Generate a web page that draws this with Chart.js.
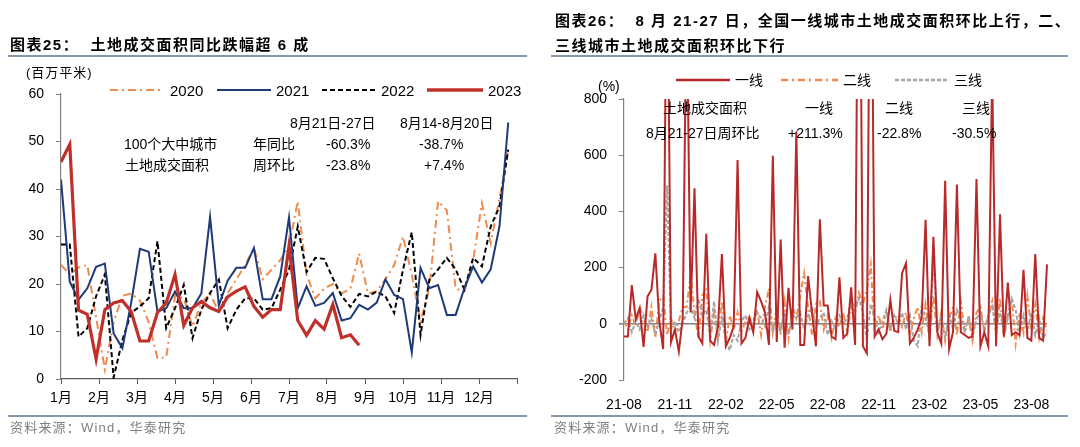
<!DOCTYPE html>
<html><head><meta charset="utf-8">
<script src="https://cdn.jsdelivr.net/npm/chart.js@4.4.0/dist/chart.umd.min.js"></script>
<style>
body{margin:0;width:1080px;height:447px;background:#fff;position:relative;overflow:hidden;font-family:'Liberation Sans',Arial,'Noto Sans CJK SC',sans-serif;}
canvas{position:absolute;top:0;}
.t{position:absolute;white-space:nowrap;line-height:1;transform:translateY(-50%);color:#000;font-size:14px;}
.ttl{font-size:15px;font-weight:bold;letter-spacing:1.5px;}
.src{font-size:13px;color:#7f7f7f;letter-spacing:1.2px;}
.sep{position:absolute;height:1.5px;background:#8497B0;}
.lg{position:absolute;}
</style></head>
<body>
<canvas id="c1" width="540" height="447" style="left:0"></canvas>
<canvas id="c2" width="540" height="447" style="left:540px"></canvas>

<div class="t ttl" style="left:10px;top:44px">图表25：&nbsp;&nbsp;土地成交面积同比跌幅超 6 成</div>
<div class="sep" style="left:8px;top:55px;width:519px"></div>
<div class="t ttl" style="left:555px;top:20px">图表26：&nbsp;&nbsp;8 月 21-27 日，全国一线城市土地成交面积环比上行，二、</div>
<div class="t ttl" style="left:555px;top:45px">三线城市土地成交面积环比下行</div>
<div class="sep" style="left:551px;top:55px;width:517px"></div>

<div class="sep" style="left:8px;top:415px;width:519px"></div>
<div class="sep" style="left:551px;top:415px;width:517px"></div>
<div class="t src" style="left:10px;top:427px">资料来源：Wind，华泰研究</div>
<div class="t src" style="left:554px;top:427px">资料来源：Wind，华泰研究</div>

<div class="t" style="left:26px;top:72px;font-size:13px;letter-spacing:1px">(百万平米)</div>
<svg class="lg" style="left:110px;top:84px" width="54" height="12"><line x1="0" y1="6" x2="54" y2="6" stroke="#EE8B4E" stroke-width="2" stroke-dasharray="8,4,2,4"/></svg>
<div class="t" style="left:170px;top:90px;font-size:15px">2020</div>
<svg class="lg" style="left:217px;top:84px" width="54" height="12"><line x1="0" y1="6" x2="54" y2="6" stroke="#1F3A78" stroke-width="2"/></svg>
<div class="t" style="left:276px;top:90px;font-size:15px">2021</div>
<svg class="lg" style="left:322px;top:84px" width="54" height="12"><line x1="0" y1="6" x2="54" y2="6" stroke="#000" stroke-width="2" stroke-dasharray="5,3"/></svg>
<div class="t" style="left:381px;top:90px;font-size:15px">2022</div>
<svg class="lg" style="left:427px;top:84px" width="56" height="12"><line x1="0" y1="6" x2="56" y2="6" stroke="#C0302A" stroke-width="3.5"/></svg>
<div class="t" style="left:488px;top:90px;font-size:15px">2023</div>

<div class="t" style="left:290px;top:123px">8月21日-27日</div>
<div class="t" style="left:400px;top:123px">8月14-8月20日</div>
<div class="t" style="left:124px;top:144px">100个大中城市</div>
<div class="t" style="left:253px;top:144px">年同比</div>
<div class="t" style="left:326px;top:144px">-60.3%</div>
<div class="t" style="left:419px;top:144px">-38.7%</div>
<div class="t" style="left:125px;top:165px">土地成交面积</div>
<div class="t" style="left:253px;top:165px">周环比</div>
<div class="t" style="left:326px;top:165px">-23.8%</div>
<div class="t" style="left:424px;top:165px">+7.4%</div>

<div class="t" style="left:598px;top:86px">(%)</div>
<svg class="lg" style="left:676px;top:74px" width="54" height="12"><line x1="0" y1="6" x2="54" y2="6" stroke="#B8292A" stroke-width="2.5"/></svg>
<div class="t" style="left:735px;top:80px">一线</div>
<svg class="lg" style="left:781px;top:74px" width="57" height="12"><line x1="0" y1="6" x2="57" y2="6" stroke="#EE8B4E" stroke-width="2.5" stroke-dasharray="7,4,2,4"/></svg>
<div class="t" style="left:843px;top:80px">二线</div>
<svg class="lg" style="left:895px;top:74px" width="53" height="12"><line x1="0" y1="6" x2="53" y2="6" stroke="#A6A6A6" stroke-width="2.5" stroke-dasharray="4,2"/></svg>
<div class="t" style="left:954px;top:80px">三线</div>

<div class="t" style="left:663px;top:108px">土地成交面积</div>
<div class="t" style="left:805px;top:108px">一线</div>
<div class="t" style="left:885px;top:108px">二线</div>
<div class="t" style="left:962px;top:108px">三线</div>
<div class="t" style="left:646px;top:133px">8月21-27日周环比</div>
<div class="t" style="left:788px;top:133px">+211.3%</div>
<div class="t" style="left:877px;top:133px">-22.8%</div>
<div class="t" style="left:952px;top:133px">-30.5%</div>

<script>
// ---- Left chart data (weekly, million m²) ----
const leftMonthLabels = ['1月','2月','3月','4月','5月','6月','7月','8月','9月','10月','11月','12月'];
const weeksPerYear = 52;
const y2020 = [24,22,23.5,24,13,2,12,17.5,18,16.5,12,4.4,4.6,17.5,17,11,16,18,14,18,21,24,27.6,21,23,25,28,37.4,22,17,19,20,18,19,26.4,18,18.5,21,24,30,22,12,19,37.4,35.5,19,18.5,25,37,28.6,38,48];
const y2021 = [42,20.5,16.7,19.1,23.6,24.3,9.6,6.5,16,27.4,26.8,14.2,14.9,18.4,14.9,14.9,18,34.1,15.5,20.7,23.4,23.4,27.6,16.8,16.8,21.6,34,14.9,19.5,15.4,16,18.1,12.3,12.8,15.6,14.6,16.1,21,17.7,16.8,5.6,23.4,19.1,19.8,13.5,13.5,19.1,23.7,20.3,23.1,32.1,54];
const y2022 = [28.3,28.3,8.9,10.7,17.4,22,0.3,8.2,13.9,15.3,17,29,10.7,14.9,19.8,8.6,14.6,18.1,20.9,10.7,14.6,17,17,14.6,14.9,18.8,23,32.1,22.5,25.5,25.3,21.2,17.5,15.2,17.9,17.4,18.4,17.4,13.9,23,30.9,9.3,20.9,23.1,25.5,23.1,18.8,25.5,23.7,32.1,36.3,48.3];
const y2023 = [45.7,49.4,14.5,13.6,4.2,14.6,16.0,16.5,14.2,8.0,8.0,14.0,16.0,22.0,11.3,15.0,16.3,15.0,14.2,17.3,18.5,19.4,15.3,13.0,14.6,14.6,28.0,12.3,9.2,12.3,10.5,15.7,8.7,9.3,7.1];

// ---- Right chart data (weekly % change) ----
const rightTickLabels = ['21-08','21-11','22-02','22-05','22-08','22-11','23-02','23-05','23-08'];
const weeksPerTick = 13;
const tier1 = [-45,-45,138,17,56,-82,97,121,251,10,-90,1500,-65,-20,-98,20,1200,40,482,-45,-70,320,-60,-75,-10,248,-80,-50,-10,583,-70,-50,20,-30,113,80,40,-75,598,-65,300,-85,128,-20,685,-75,-75,170,40,-80,372,65,65,-45,-55,165,-50,-35,130,-75,2000,-80,-105,1800,-45,-20,-55,-35,85,-25,-30,180,215,-70,-50,-20,20,370,-80,310,-30,-70,509,-90,-30,496,-30,-40,-50,-45,515,-80,-30,-80,900,-80,390,-45,147,-40,-30,-40,192,-50,-60,248,-50,-60,211.3];
const tier2 = [10,-20,30,-10,60,20,-30,60,-50,80,100,-40,20,-30,10,60,60,170,40,-50,100,127,-60,40,-50,80,-70,30,-20,40,-30,10,30,-20,50,-40,60,125,-30,60,-40,80,-50,60,20,100,180,60,-40,70,80,-20,30,-50,20,-10,40,-30,60,40,110,70,120,210,-30,30,-20,40,-30,20,30,-10,40,-40,20,60,-30,70,-50,100,-40,40,-60,20,60,-40,80,-30,20,-60,40,60,-30,30,80,-40,90,-50,30,90,-70,40,-30,100,-20,70,-50,20,-22.8];
const tier3 = [0,20,-30,10,-20,30,-10,20,-40,10,60,494,-20,10,-30,0,40,60,20,90,30,50,-40,80,-60,20,-60,-95,-40,-60,10,30,-20,10,40,20,-10,60,-30,30,-20,40,-40,30,20,40,-20,30,60,-10,20,40,-40,10,-20,30,0,20,80,60,90,40,-60,70,20,-30,10,50,-20,30,0,40,-20,30,-60,-80,60,20,-40,240,-30,30,-50,40,-20,50,20,-30,30,-40,20,40,-20,30,60,-10,40,-30,20,90,50,-40,30,-30,40,-40,20,-50,-30.5];

Chart.defaults.font.family = "'Liberation Sans', Arial, 'Noto Sans CJK SC', sans-serif";
Chart.defaults.color = '#000';

const toXY = arr => arr.map((v, i) => ({x: i, y: v}));

new Chart(document.getElementById('c1'), {
  type: 'line',
  data: { datasets: [
    {label: '2023', data: toXY(y2023), borderColor: '#C0302A', borderWidth: 3.2, order: 0},
    {label: '2021', data: toXY(y2021), borderColor: '#1F3A78', borderWidth: 2, order: 1},
    {label: '2022', data: toXY(y2022), borderColor: '#000000', borderWidth: 2, borderDash: [5, 3], order: 2},
    {label: '2020', data: toXY(y2020), borderColor: '#EE8B4E', borderWidth: 2, borderDash: [8, 4, 2, 4], order: 3}
  ]},
  options: {
    responsive: false, animation: false, devicePixelRatio: 1,
    layout: {padding: {left: 0, right: 23, top: 94, bottom: 38}},
    plugins: {legend: {display: false}, tooltip: {enabled: false}},
    elements: {point: {radius: 0}, line: {tension: 0}},
    scales: {
      x: {
        type: 'linear', min: 0, max: weeksPerYear,
        afterBuildTicks: s => { s.ticks = leftMonthLabels.concat(['']).map((_, k) => ({value: k * weeksPerYear / 12})); },
        afterFit: s => { s.height = 30; },
        ticks: {callback: (v, i) => leftMonthLabels[i] || '', font: {size: 14}, color: '#000', padding: 6, maxRotation: 0, autoSkip: false},
        grid: {drawOnChartArea: false, drawTicks: true, tickLength: 5, color: '#595959'},
        border: {color: '#595959', width: 1.2}
      },
      y: {
        min: 0, max: 60,
        ticks: {stepSize: 10, font: {size: 14}, color: '#000', padding: 12},
        afterFit: s => { s.width = 61; },
        grid: {drawOnChartArea: false, tickLength: 5, color: '#808080'},
        border: {color: '#808080', width: 1.2}
      }
    }
  }
});

new Chart(document.getElementById('c2'), {
  type: 'line',
  data: { labels: tier1.map((_, i) => i), datasets: [
    {label: '一线', data: tier1, borderColor: '#B8292A', borderWidth: 2, order: 0},
    {label: '三线', data: tier3, borderColor: '#A6A6A6', borderWidth: 2, borderDash: [4, 2], order: 1},
    {label: '二线', data: tier2, borderColor: '#EE8B4E', borderWidth: 2, borderDash: [6, 3, 2, 3], order: 2}
  ]},
  options: {
    responsive: false, animation: false, devicePixelRatio: 1,
    layout: {padding: {left: 0, right: 33, top: 99, bottom: 37}},
    plugins: {legend: {display: false}, tooltip: {enabled: false}},
    elements: {point: {radius: 0}, line: {tension: 0}},
    scales: {
      x: {
        type: 'category', offset: false,
        afterBuildTicks: s => { s.ticks = s.ticks.filter(t => t.value % weeksPerTick === 0); },
        afterFit: s => { s.height = 30; },
        ticks: {callback: v => rightTickLabels[v / weeksPerTick], autoSkip: false, maxRotation: 0, font: {size: 14}, color: '#000', padding: 9},
        grid: {display: false},
        border: {display: false}
      },
      y: {
        min: -200, max: 800,
        ticks: {stepSize: 200, font: {size: 14}, color: '#000', padding: 12},
        afterFit: s => { s.width = 84; },
        grid: {
          color: c => (c.tick && c.tick.value === 0) ? '#7F7F7F' : 'rgba(0,0,0,0)',
          lineWidth: c => (c.tick && c.tick.value === 0) ? 1.6 : 1,
          tickColor: '#808080', tickLength: 5
        },
        border: {color: '#808080', width: 1.2}
      }
    }
  }
});
</script>
</body></html>
